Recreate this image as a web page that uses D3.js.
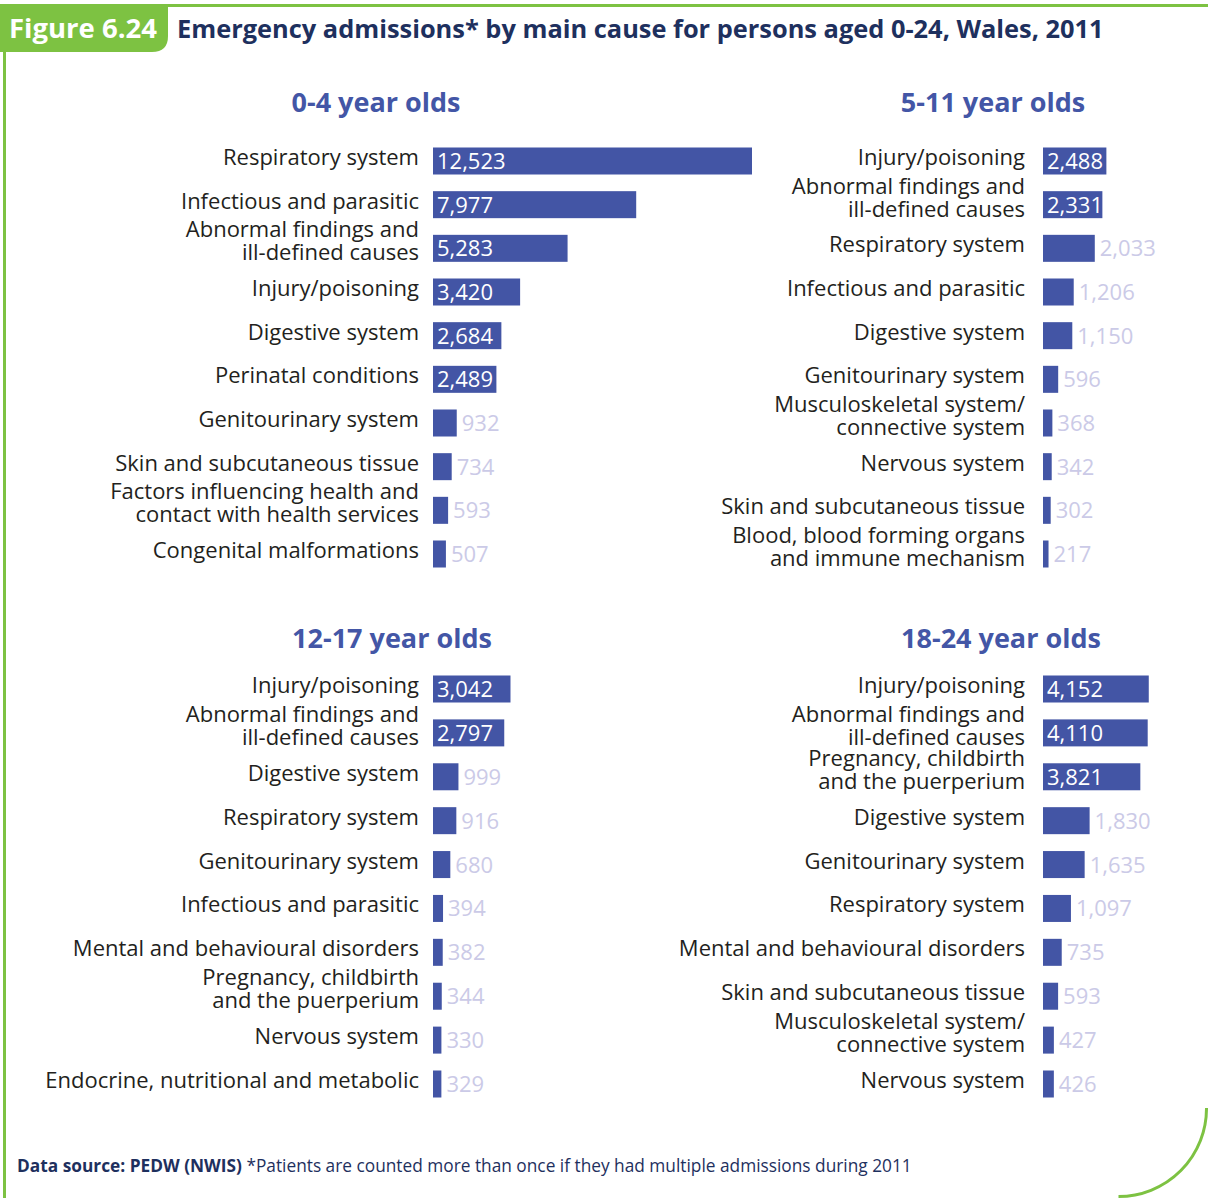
<!DOCTYPE html>
<html>
<head>
<meta charset="utf-8">
<script src="https://cdn.jsdelivr.net/npm/d3@7"></script>
<style>
  html, body { margin: 0; padding: 0; background: #fff; }
  svg { display: block; font-family: "Open Sans", "Noto Sans", sans-serif; }
  .cat { fill: #231f20; font-size: 22px; }
  .val-in { fill: #fff; font-size: 22px; }
  .val-out { fill: #cbcae7; font-size: 22px; }
  .ptitle { fill: #4356a6; font-size: 27px; font-weight: 700; }
</style>
</head>
<body>
<div id="chart"></div>
<script>
// 데이터
const cats0_4 = ["Respiratory system", "Infectious and parasitic", "Abnormal findings and\nill-defined causes",
  "Injury/poisoning", "Digestive system", "Perinatal conditions", "Genitourinary system",
  "Skin and subcutaneous tissue", "Factors influencing health and\ncontact with health services", "Congenital malformations"];
const vals0_4 = [12523, 7977, 5283, 3420, 2684, 2489, 932, 734, 593, 507];

const cats5_11 = ["Injury/poisoning", "Abnormal findings and\nill-defined causes", "Respiratory system",
  "Infectious and parasitic", "Digestive system", "Genitourinary system", "Musculoskeletal system/\nconnective system",
  "Nervous system", "Skin and subcutaneous tissue", "Blood, blood forming organs\nand immune mechanism"];
const vals5_11 = [2488, 2331, 2033, 1206, 1150, 596, 368, 342, 302, 217];

const cats12_17 = ["Injury/poisoning", "Abnormal findings and\nill-defined causes", "Digestive system",
  "Respiratory system", "Genitourinary system", "Infectious and parasitic", "Mental and behavioural disorders",
  "Pregnancy, childbirth\nand the puerperium", "Nervous system", "Endocrine, nutritional and metabolic"];
const vals12_17 = [3042, 2797, 999, 916, 680, 394, 382, 344, 330, 329];

const cats18_24 = ["Injury/poisoning", "Abnormal findings and\nill-defined causes", "Pregnancy, childbirth\nand the puerperium",
  "Digestive system", "Genitourinary system", "Respiratory system", "Mental and behavioural disorders",
  "Skin and subcutaneous tissue", "Musculoskeletal system/\nconnective system", "Nervous system"];
const vals18_24 = [4152, 4110, 3821, 1830, 1635, 1097, 735, 593, 427, 426];

const panelTitles = ["0-4 year olds", "5-11 year olds", "12-17 year olds", "18-24 year olds"];

const W = 1208, H = 1198;
const GREEN = "#7dc242", BAR = "#4355a5";

const svg = d3.select("#chart").append("svg").attr("width", W).attr("height", H);

// === 테두리
svg.append("path").attr("fill", "none").attr("stroke", GREEN).attr("stroke-width", 3)
  .attr("d", `M4.5,${H} L4.5,5.5 L${W},5.5`);
svg.append("path").attr("fill", "none").attr("stroke", GREEN).attr("stroke-width", 3)
  .attr("d", `M1206.5,1108 A88,88 0 0 1 1118.5,1196.5`);

// 배지
svg.append("path").attr("fill", GREEN)
  .attr("d", "M0,4 L168,4 L168,36 Q168,52 152,52 L0,52 Z");
svg.append("text").attr("x", 9).attr("y", 38).attr("fill", "#fff")
  .attr("font-size", 27.5).attr("font-weight", 700).text("Figure 6.24");
svg.append("text").attr("x", 177).attr("y", 38).attr("fill", "#1e305e")
  .attr("font-size", 25.4).attr("font-weight", 700)
  .text("Emergency admissions* by main cause for persons aged 0-24, Wales, 2011");

// === 패널
const x = d3.scaleLinear().domain([0, 12523]).range([0, 319]);

const panels = [
  { title: panelTitles[0], cats: cats0_4, vals: vals0_4, labelX: 419, barX: 433, titleX: 376, titleY: 112, y: [161, 554] },
  { title: panelTitles[1], cats: cats5_11, vals: vals5_11, labelX: 1025, barX: 1043, titleX: 993, titleY: 112, y: [161, 554] },
  { title: panelTitles[2], cats: cats12_17, vals: vals12_17, labelX: 419, barX: 433, titleX: 392, titleY: 648, y: [689, 1084] },
  { title: panelTitles[3], cats: cats18_24, vals: vals18_24, labelX: 1025, barX: 1043, titleX: 1001, titleY: 648, y: [689, 1084] },
];

panels.forEach(p => {
  const y = d3.scalePoint().domain(p.cats).range(p.y);
  const g = svg.append("g");
  g.append("text").attr("class", "ptitle").attr("x", p.titleX).attr("y", p.titleY)
    .attr("text-anchor", "middle").text(p.title);

  const rows = p.cats.map((c, i) => ({ c, v: p.vals[i] }));
  const row = g.selectAll("g.row").data(rows).join("g").attr("class", "row");

  row.append("rect")
    .attr("x", p.barX).attr("y", d => y(d.c) - 13.5)
    .attr("width", d => x(d.v)).attr("height", 27).attr("fill", BAR);

  // 카테고리 라벨 (두 줄 지원)
  row.each(function (d) {
    const lines = d.c.split("\n");
    const t = d3.select(this).append("text").attr("class", "cat")
      .attr("text-anchor", "end");
    const base = lines.length > 1 ? y(d.c) - 11 : y(d.c) + 4;
    lines.forEach((ln, k) => {
      t.append("tspan").attr("x", p.labelX).attr("y", base + k * 23).text(ln);
    });
  });

  // 값 라벨: 큰 막대는 안쪽, 작은 막대는 바깥
  row.append("text")
    .attr("class", d => d.v > 2200 ? "val-in" : "val-out")
    .attr("x", d => d.v > 2200 ? p.barX + 4 : p.barX + x(d.v) + 5)
    .attr("y", d => y(d.c) + 8)
    .text(d => d3.format(",")(d.v));
});

// === 출처
const foot = svg.append("text").attr("x", 17).attr("y", 1172).attr("font-size", 17.3).attr("fill", "#1e305e");
foot.append("tspan").attr("font-weight", 700).text("Data source: PEDW (NWIS)");
foot.append("tspan").text(" *Patients are counted more than once if they had multiple admissions during 2011");
</script>
</body>
</html>
